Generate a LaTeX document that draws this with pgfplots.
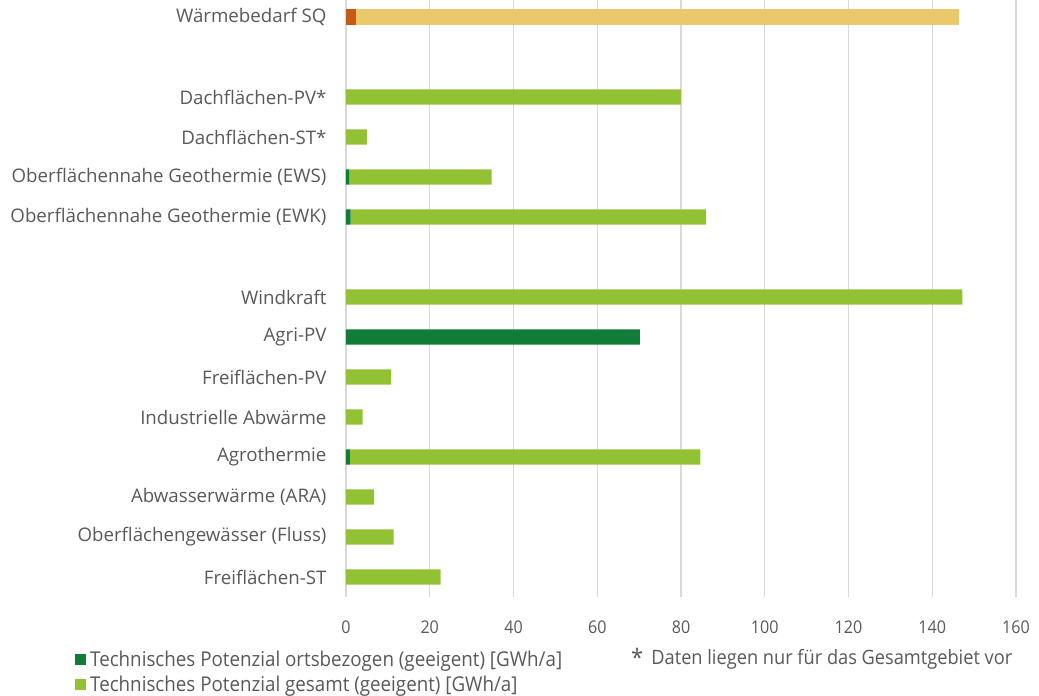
\documentclass[border=0pt]{standalone}
\usepackage{pgfplots}
\pgfplotsset{compat=1.18}
\usepackage{fontspec}
\setmainfont{Open Sans}
\newfontfamily\narrowfont[FakeStretch=0.92]{Open Sans}
\definecolor{dkgreen}{RGB}{16,124,56}
\definecolor{ltgreen}{RGB}{146,193,52}
\definecolor{orng}{RGB}{197,90,17}
\definecolor{ylw}{RGB}{236,200,108}
\definecolor{txtgray}{RGB}{89,89,89}
\definecolor{gridgray}{RGB}{217,217,217}
\begin{document}
\begin{tikzpicture}
\useasboundingbox (-346pt,-99pt) rectangle (693pt,597pt);
\begin{axis}[
  at={(0pt,0pt)}, anchor=south west,
  scale only axis, width=670pt, height=597pt,
  xbar stacked, bar width=15.3pt,
  xmin=0, xmax=160, ymin=-0.5, ymax=14.425,
  axis line style={draw=none},
  xmajorgrids, grid style={gridgray, line width=1.4pt},
  xtick={0,20,...,160},
  ytick={0,1,2,3,4,5,6,7,9,10,11,12,14},
  yticklabels={Freiflächen-ST,Oberflächengewässer (Fluss),Abwasserwärme (ARA),Agrothermie,Industrielle Abwärme,Freiflächen-PV,Agri-PV,Windkraft,Oberflächennahe Geothermie (EWK),Oberflächennahe Geothermie (EWS),Dachflächen-ST*,Dachflächen-PV*,Wärmebedarf SQ},
  major tick length=0pt,
  yticklabel style={font=\fontsize{18.7}{20}\selectfont, text=txtgray, xshift=-16pt},
  xticklabel style={font=\narrowfont\fontsize{17.5}{18}\selectfont, text=txtgray, yshift=-20pt},
  /pgf/number format/assume math mode=true,
  clip=false,
  legend style={at={(axis description cs:-0.4045,-0.086)}, anchor=north west, draw=none, fill=none,
    font=\narrowfont\fontsize{20.4}{22}\selectfont, text=txtgray, inner sep=0pt,
    row sep=4pt,
    /tikz/every odd column/.style={column sep=2pt}},
  legend cell align=left,
  legend image code/.code={\fill[#1] (0pt,-5.5pt) rectangle (11pt,5.5pt);},
]
\addplot[fill=dkgreen, draw=none] coordinates {
 (0,0) (0,1) (0,2) (0.9,3) (0,4) (0,5) (70.2,6) (0,7) (1.1,9) (0.8,10) (0,11) (0,12) (0,14)};
\addlegendentry{Technisches Potenzial ortsbezogen (geeigent) [GWh/a]}
\addplot[fill=ltgreen, draw=none] coordinates {
 (22.6,0) (11.4,1) (6.7,2) (83.7,3) (4.0,4) (10.8,5) (0,6) (147.2,7) (84.9,9) (34.0,10) (5.0,11) (80.0,12) (0,14)};
\addlegendentry{Technisches Potenzial gesamt (geeigent) [GWh/a]}
\addplot[fill=orng, draw=none, forget plot] coordinates {
 (0,0) (0,1) (0,2) (0,3) (0,4) (0,5) (0,6) (0,7) (0,9) (0,10) (0,11) (0,12) (2.3,14)};
\addplot[fill=ylw, draw=none, forget plot] coordinates {
 (0,0) (0,1) (0,2) (0,3) (0,4) (0,5) (0,6) (0,7) (0,9) (0,10) (0,11) (0,12) (144.1,14)};
\end{axis}
\node[anchor=west, text=txtgray, font=\narrowfont\fontsize{19.8}{22}\selectfont, inner sep=0pt] at (285pt,-62pt) {\raisebox{-2pt}{\fontsize{24}{24}\selectfont *}\, Daten liegen nur für das Gesamtgebiet vor};
\end{tikzpicture}
\end{document}
